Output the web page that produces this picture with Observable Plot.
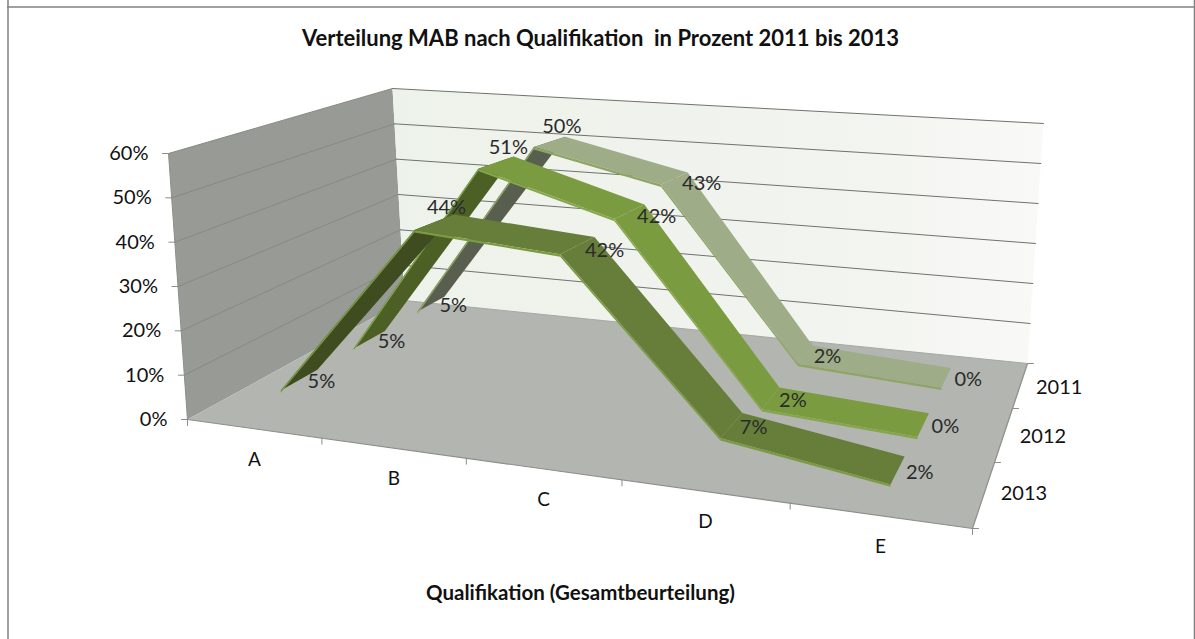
<!DOCTYPE html>
<html><head><meta charset="utf-8">
<script src="https://cdn.jsdelivr.net/npm/d3@7"></script>
<script src="https://cdn.jsdelivr.net/npm/@observablehq/plot@0.6"></script>
<style>html,body{margin:0;padding:0;background:#fff}svg{display:block}</style>
</head><body><div id="chart"></div>
<script>
const categories = ["A","B","C","D","E"];
const years = ["2011","2012","2013"];
const values2011 = [5,50,43,2,0];
const values2012 = [5,51,42,2,0];
const values2013 = [5,44,42,7,2];
const percentTicks = [0,10,20,30,40,50,60];
const title = "Verteilung MAB nach Qualifikation  in Prozent 2011 bis 2013";
const xTitle = "Qualifikation (Gesamtbeurteilung)";

const font = "Lato, 'Open Sans', sans-serif";
const vMax = 60;

function homography([[x0,y0],[x1,y1],[x2,y2],[x3,y3]]) {
  const sx=x0-x1+x2-x3, sy=y0-y1+y2-y3, dx1=x1-x2, dx2=x3-x2, dy1=y1-y2, dy2=y3-y2;
  const den=dx1*dy2-dx2*dy1, g=(sx*dy2-dx2*sy)/den, h=(dx1*sy-sx*dy1)/den;
  const a=x1-x0+g*x1, b=x3-x0+h*x3, d=y1-y0+g*y1, e=y3-y0+h*y3;
  return (u,w)=>{const q=g*u+h*w+1; return [(a*u+b*w+x0)/q,(d*u+e*w+y0)/q];};
}
// camera: corners of the chart box as seen on the page
const floorH = homography([[187,419],[972,528],[1027,363],[404,300]]);
const ceilH  = homography([[168,153],[992,228],[1043,123],[392,88]]);
const lift=(a,b,t)=>[a[0]+(b[0]-a[0])*t, a[1]+(b[1]-a[1])*t];
const P=(u,w,val)=>lift(floorH(u,w),ceilH(u,w),val/vMax);
// the ribbons hang inside the box with a slightly different lean
const ribbonCeil = homography([[203,148],[1017,226],[1058,121],[412,83]]);
const R=(u,w,val)=>lift(floorH(u,w),ribbonCeil(u,w),val/vMax);

const poly=(pts,fill,stroke="none",sw=0)=>Plot.line([...pts,pts[0]],{x:d=>d[0],y:d=>d[1],fill,stroke,strokeWidth:sw,curve:"linear"});
const seg=(a,b,stroke,sw=1)=>Plot.line([a,b],{x:d=>d[0],y:d=>d[1],stroke,strokeWidth:sw});

const gradient=()=>{
  const defs=d3.create("svg:defs");
  const g=defs.append("linearGradient").attr("id","backwall");
  g.append("stop").attr("offset","0%").attr("stop-color","#edf2ea");
  g.append("stop").attr("offset","70%").attr("stop-color","#f2f4ef");
  g.append("stop").attr("offset","100%").attr("stop-color","#f9f9f7");
  return defs.node();
};

const walls=[
  gradient,
  poly([P(0,0,0),P(0,1,0),P(0,1,vMax),P(0,0,vMax)],"#989b95"),
  poly([P(0,1,0),P(1,1,0),P(1,1,vMax),P(0,1,vMax)],"url(#backwall)"),
  poly([P(0,0,0),P(1,0,0),P(1,1,0),P(0,1,0)],"#b2b5b0"),
];
const grid=percentTicks.slice(1).flatMap(v=>[
  seg(P(0,0,v),P(0,1,v),"#868984",1),
  seg(P(0,1,v),P(1,1,v),"#6f726d",1),
]);
const axisLines=[
  seg(P(0,0,0),P(1,0,0),"#8c8e8a",1.2),
  seg(P(1,0,0),P(1,1,0),"#8c8e8a",1.2),
  seg(P(0,0,0),P(0,0,vMax),"#8c8e8a",1),
  seg(P(0,1,0),P(1,1,0),"#a5a8a3",1),
];
const ticks=[
  ...percentTicks.map(v=>{const p=P(0,0,v);return seg(p,[p[0]-6,p[1]],"#8c8e8a",1);}),
  ...d3.range(6).map(i=>{const p=P(i/5,0,0);return seg(p,[p[0],p[1]+6],"#8c8e8a",1);}),
  ...d3.range(4).map(i=>{const p=P(1,i/3,0);return seg(p,[p[0]+6,p[1]],"#8c8e8a",1);}),
];

const halfW=0.075, edgePx=2.4, skew=0.09;
const seriesStyle={
  "2011":{top:"#9fac88",under:"#585f4e",edge:"#8fa566",row:0.83,values:values2011},
  "2012":{top:"#7b9b41",under:"#4c6026",edge:"#85a64b",row:0.5,values:values2012},
  "2013":{top:"#667e3a",under:"#3e4c20",edge:"#7b9a42",row:0.18,values:values2013},
};
const uOf=i=>(i+.5)/5;
const edgePt=(u,w,v,side)=>{const p=R(u,w+side*halfW,v);return [p[0]+side*skew*v,p[1]];};
function ribbon(year){
  const s=seriesStyle[year], out=[];
  for(let i=0;i<4;i++){
    const u0=uOf(i),u1=uOf(i+1),v0=s.values[i],v1=s.values[i+1];
    const rising=v1>v0+3;
    const fr0=edgePt(u0,s.row,v0,-1),fr1=edgePt(u1,s.row,v1,-1),bk1=edgePt(u1,s.row,v1,1),bk0=edgePt(u0,s.row,v0,1);
    out.push(poly([fr0,fr1,bk1,bk0],rising?s.under:s.top));
    out.push(poly([fr0,fr1,[fr1[0],fr1[1]+edgePx],[fr0[0],fr0[1]+edgePx]],s.edge));
  }
  return out;
}
const ribbons=years.flatMap(ribbon);

const labelRows=years.flatMap(y=>seriesStyle[y].values.map((v,i)=>{
  const [x,yy]=R(uOf(i),seriesStyle[y].row,v);
  const peak=i===1, high=v>30;
  return {x:x+(peak?12:high?27:22),y:yy+(peak?-15:high?5:2),text:v+"%"};
}));
const catRows=categories.map((c,i)=>{const p=P(uOf(i),0,0);return {x:p[0]+1,y:p[1]+31,text:c};});
const yearRows=years.map((y,i)=>{const p=P(1,seriesStyle[y].row,0);return {x:p[0]+39,y:p[1]+2,text:y};});
const pctRows=percentTicks.map(v=>{const p=P(0,0,v);return {x:p[0]-20,y:p[1],text:v+"%"};});

const chart=Plot.plot({
  width:1195,height:639,margin:0,
  x:{domain:[0,1195],range:[0,1195],axis:null},
  y:{domain:[0,639],range:[0,639],axis:null},
  style:{background:"#fff",fontFamily:font},
  marks:[
    Plot.ruleX([7.5,1194],{stroke:"#808080",strokeWidth:1.5}),
    Plot.ruleY([6.5],{x1:7,x2:1195,stroke:"#808080",strokeWidth:1.5}),
    ...walls,...grid,...axisLines,...ticks,...ribbons,
    Plot.text(labelRows,{x:"x",y:"y",text:"text",fontSize:20,fill:"#2a2a2a"}),
    Plot.text(catRows,{x:"x",y:"y",text:"text",fontSize:19,fill:"#111"}),
    Plot.text(yearRows,{x:"x",y:"y",text:"text",fontSize:20,fill:"#111"}),
    Plot.text(pctRows,{x:"x",y:"y",text:"text",fontSize:20,fill:"#111",textAnchor:"end"}),
    Plot.text([title],{x:[600],y:[38],text:d=>d,fontSize:22,fontWeight:"bold",fill:"#111"}),
    Plot.text([xTitle],{x:[580],y:[593],text:d=>d,fontSize:20.5,fontWeight:"bold",fill:"#111"}),
  ]
});
document.getElementById("chart").append(chart);
</script></body></html>
